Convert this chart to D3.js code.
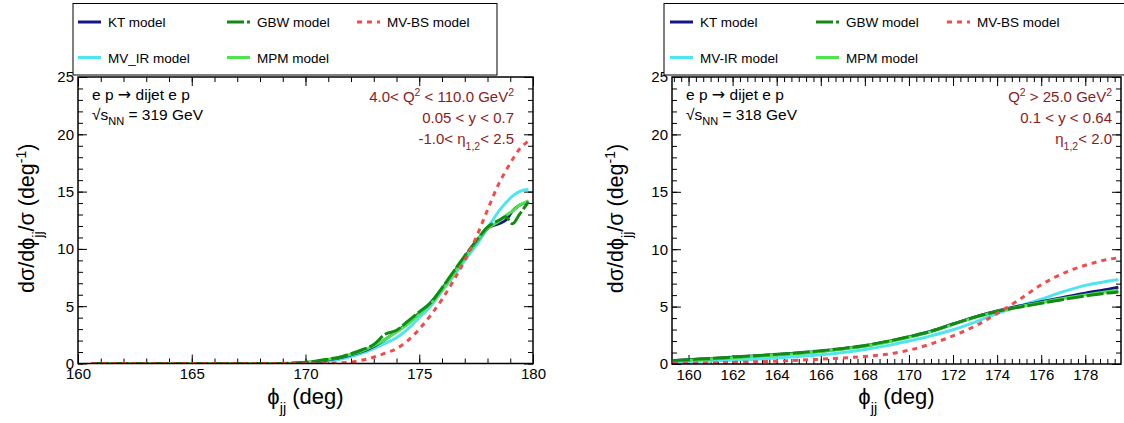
<!DOCTYPE html>
<html>
<head>
<meta charset="utf-8">
<script src="https://cdn.jsdelivr.net/npm/d3@7"></script>
<style>
  body { margin: 0; background: #fff; }
  svg { display: block; }
  text { font-family: "Liberation Sans", Arial, Helvetica, sans-serif; }
</style>
</head>
<body>
<svg id="chart" width="1124" height="423"></svg>
<script>
// ---- Left panel: 4 < Q^2 < 110 GeV^2, sqrt(s) = 319 GeV ----
const phiLeft = [160.6, 162, 164, 166, 168, 169, 169.5, 170, 170.5, 171, 171.5, 172, 172.5, 173, 173.5, 174, 174.5, 175, 175.5, 176, 176.5, 177, 177.5, 178, 178.5, 178.8, 179.1, 179.4, 179.8];
const ktLeft   = [0, 0, 0, 0, 0, 0.01, 0.03, 0.08, 0.18, 0.33, 0.5, 0.75, 1.05, 1.5, 2.1, 2.8, 3.5, 4.4, 5.3, 6.5, 7.9, 9.3, 10.6, 11.8, 12.2, 12.5, 13.3, 13.8, 14.1];
const gbwLeft  = [0, 0, 0, 0, 0, 0.01, 0.04, 0.1, 0.22, 0.38, 0.55, 0.85, 1.2, 1.65, 2.55, 2.9, 3.7, 4.5, 5.3, 6.6, 8.0, 9.4, 10.7, 11.9, 12.5, 12.8, 12.2, 13.0, 14.1];
const mvbsLeft = [0, 0, 0, 0, 0, 0, 0, 0, 0.01, 0.02, 0.05, 0.12, 0.3, 0.55, 0.9, 1.3, 2.0, 3.0, 4.2, 5.6, 7.2, 9.0, 11.0, 13.4, 15.7, 16.8, 17.8, 18.7, 19.4];
const mvirLeft = [0, 0, 0, 0, 0, 0.005, 0.02, 0.05, 0.12, 0.22, 0.37, 0.6, 0.9, 1.3, 1.75, 2.25, 3.0, 4.0, 5.0, 6.3, 7.6, 9.0, 10.3, 11.8, 13.3, 14.0, 14.6, 15.0, 15.2];
const mpmLeft  = [0, 0, 0, 0, 0, 0.01, 0.03, 0.08, 0.2, 0.36, 0.55, 0.8, 1.1, 1.55, 2.1, 2.75, 3.45, 4.3, 5.2, 6.4, 7.8, 9.2, 10.6, 11.8, 12.4, 12.9, 13.3, 13.8, 14.2];

// ---- Right panel: Q^2 > 25 GeV^2, sqrt(s) = 318 GeV ----
const phiRight  = [159.3, 160, 161, 162, 163, 164, 165, 166, 167, 168, 169, 170, 171, 172, 173, 174, 175, 176, 177, 178, 179, 179.5];
const ktRight   = [0.28, 0.36, 0.46, 0.58, 0.7, 0.82, 0.95, 1.12, 1.33, 1.58, 1.94, 2.36, 2.85, 3.48, 4.1, 4.62, 5.05, 5.42, 5.8, 6.17, 6.5, 6.68];
const gbwRight  = [0.3, 0.38, 0.48, 0.6, 0.72, 0.84, 0.98, 1.15, 1.36, 1.62, 1.97, 2.38, 2.86, 3.48, 4.08, 4.58, 4.95, 5.28, 5.62, 5.92, 6.18, 6.28];
const mvbsRight = [0.05, 0.07, 0.1, 0.14, 0.19, 0.25, 0.33, 0.42, 0.52, 0.66, 0.85, 1.2, 1.75, 2.45, 3.3, 4.4, 5.6, 6.9, 7.9, 8.6, 9.1, 9.25];
const mvirRight = [0.18, 0.21, 0.27, 0.34, 0.42, 0.52, 0.65, 0.8, 1.0, 1.27, 1.6, 2.0, 2.45, 2.98, 3.65, 4.4, 5.05, 5.65, 6.3, 6.85, 7.2, 7.35];
const mpmRight  = [0.26, 0.33, 0.43, 0.55, 0.67, 0.79, 0.92, 1.09, 1.3, 1.55, 1.9, 2.32, 2.82, 3.45, 4.06, 4.58, 4.98, 5.34, 5.7, 6.02, 6.3, 6.42];

// ---- Axis ticks ----
const yTicks = [0, 5, 10, 15, 20, 25];
const xTicksLeft = [160, 165, 170, 175, 180];
const xTicksRight = [160, 162, 164, 166, 168, 170, 172, 174, 176, 178];

// ---- Legend ----
const legendLabelsLeft  = ["KT model", "GBW model", "MV-BS model", "MV_IR model", "MPM model"];
const legendLabelsRight = ["KT model", "GBW model", "MV-BS model", "MV-IR model", "MPM model"];

// Line styles for each model (KT, GBW, MV-BS, MV-IR, MPM)
const styles = [
  { color: "#161682", dash: null },
  { color: "#138a13", dash: "17,3" },
  { color: "#f24b4b", dash: "5,5" },
  { color: "#4fe5ef", dash: null },
  { color: "#4de44d", dash: null }
];
// draw order: MV-IR, KT, MPM, GBW, MV-BS
const drawOrder = [3, 0, 4, 1, 2];

const svg = d3.select("#chart");
const darkRed = "#8c1c1c";

function drawPanel(p) {
  const x = d3.scaleLinear().domain(p.xDomain).range([p.left, p.right]);
  const y = d3.scaleLinear().domain([0, 25]).range([p.bottom, p.top]);
  const g = svg.append("g");

  const clipId = "clip" + p.id;
  svg.append("clipPath").attr("id", clipId)
    .append("rect").attr("x", p.left).attr("y", p.top)
    .attr("width", p.right - p.left).attr("height", p.bottom - p.top);

  // minor ticks
  const xMinor = p.xMinor, yMinor = d3.range(0, 25.001, 1);
  [[d3.axisBottom(x), p.bottom], [d3.axisTop(x), p.top]].forEach(([gen, ty]) => {
    g.append("g").attr("transform", `translate(0,${ty})`)
      .call(gen.tickValues(xMinor).tickSize(-5).tickFormat(""))
      .call(s => s.select(".domain").remove());
  });
  g.append("g").attr("transform", `translate(${p.left},0)`)
    .call(d3.axisLeft(y).tickValues(yMinor).tickSize(-5).tickFormat(""))
    .call(s => s.select(".domain").remove());
  g.append("g").attr("transform", `translate(${p.right},0)`)
    .call(d3.axisRight(y).tickValues(yMinor).tickSize(-5).tickFormat(""))
    .call(s => s.select(".domain").remove());

  // major ticks with labels
  g.append("g").attr("transform", `translate(0,${p.bottom})`)
    .call(d3.axisBottom(x).tickValues(p.xTicks).tickSize(-9).tickPadding(5).tickFormat(d3.format("d")))
    .call(s => s.select(".domain").remove());
  g.append("g").attr("transform", `translate(0,${p.top})`)
    .call(d3.axisTop(x).tickValues(p.xTicks).tickSize(-9).tickFormat(""))
    .call(s => s.select(".domain").remove());
  g.append("g").attr("transform", `translate(${p.left},0)`)
    .call(d3.axisLeft(y).tickValues(yTicks).tickSize(-9).tickPadding(4).tickFormat(d3.format("d")))
    .call(s => s.select(".domain").remove());
  g.append("g").attr("transform", `translate(${p.right},0)`)
    .call(d3.axisRight(y).tickValues(yTicks).tickSize(-9).tickFormat(""))
    .call(s => s.select(".domain").remove());

  g.selectAll(".tick line").attr("stroke", "#000").attr("stroke-width", 1);
  g.selectAll(".tick text").attr("font-size", 15).attr("fill", "#000")
    .style("font-family", '"Liberation Sans", Arial, sans-serif');

  // curves
  const line = d3.line().x(d => x(d[0])).y(d => y(d[1])).curve(d3.curveMonotoneX);
  const curves = g.append("g").attr("clip-path", `url(#${clipId})`);
  drawOrder.forEach(i => {
    const pts = p.phi.map((v, k) => [v, p.series[i][k]]);
    curves.append("path").datum(pts)
      .attr("d", line)
      .attr("fill", "none")
      .attr("stroke", styles[i].color)
      .attr("stroke-width", 3)
      .attr("stroke-dasharray", styles[i].dash);
  });

  // frame
  g.append("rect").attr("x", p.left).attr("y", p.top)
    .attr("width", p.right - p.left).attr("height", p.bottom - p.top)
    .attr("fill", "none").attr("stroke", "#000").attr("stroke-width", 1.5);

  // legend box
  const lg = g.append("g");
  lg.append("rect").attr("x", p.legend.x0).attr("y", 3.5)
    .attr("width", p.legend.x1 - p.legend.x0).attr("height", 71.5)
    .attr("fill", "#fff").attr("stroke", "#000").attr("stroke-width", 1);
  const slots = [[0, 0], [1, 0], [2, 0], [0, 1], [1, 1]];
  slots.forEach((s, i) => {
    const lx = p.legend.cols[s[0]];
    const ly = s[1] === 0 ? 22 : 57.5;
    lg.append("line").attr("x1", lx).attr("x2", lx + 23).attr("y1", ly).attr("y2", ly)
      .attr("stroke", styles[i].color).attr("stroke-width", 3)
      .attr("stroke-dasharray", styles[i].dash);
    lg.append("text").attr("x", lx + 30).attr("y", ly + 5)
      .attr("font-size", 13.5).text(p.legendLabels[i]);
  });

  // process label
  const t1 = g.append("text").attr("x", p.left + 14).attr("y", 99.5).attr("font-size", 15.5);
  t1.append("tspan").text("e p ");
  t1.append("tspan").style("font-family", '"DejaVu Sans", sans-serif').attr("font-size", 16).text("\u2192");
  t1.append("tspan").text(" dijet e p");
  const t2 = g.append("text").attr("x", p.left + 14).attr("y", 120).attr("font-size", 15.5);
  t2.append("tspan").text("\u221As");
  t2.append("tspan").attr("dy", 5).attr("font-size", 11).text("NN");
  t2.append("tspan").attr("dy", -5).text(" = " + p.energy + " GeV");

  // kinematic cuts
  p.cuts.forEach((parts, k) => {
    const t = g.append("text").attr("x", p.cutX).attr("y", [102, 123, 144][k])
      .attr("text-anchor", "end").attr("font-size", 15).attr("fill", darkRed);
    let off = 0;
    parts.forEach(pt => {
      const sh = pt.sup ? -6 : pt.sub ? 6 : 0;
      t.append("tspan").attr("dy", sh - off)
        .attr("font-size", pt.sup || pt.sub ? 10.5 : 15).text(pt.t);
      off = sh;
    });
  });

  // axis titles
  const xt = g.append("text").attr("x", (p.left + p.right) / 2).attr("y", 404)
    .attr("text-anchor", "middle").attr("font-size", 22);
  xt.append("tspan").text("\u03D5");
  xt.append("tspan").attr("dy", 9).attr("font-size", 14.5).text("jj");
  xt.append("tspan").attr("dy", -9).text(" (deg)");

  const yt = g.append("text")
    .attr("transform", `translate(${p.yTitleX},${(p.top + p.bottom) / 2 - 2}) rotate(-90)`)
    .attr("text-anchor", "middle").attr("font-size", 21.5);
  yt.append("tspan").text("d\u03C3/d\u03D5");
  yt.append("tspan").attr("dy", 9).attr("font-size", 14).text("jj");
  yt.append("tspan").attr("dy", -9).text("/\u03C3  (deg");
  yt.append("tspan").attr("dy", -8).attr("font-size", 14).text("-1");
  yt.append("tspan").attr("dy", 8).text(")");
}

drawPanel({
  id: "L", left: 78, right: 533, top: 77, bottom: 363.5,
  xDomain: [160, 180], xTicks: xTicksLeft, xMinor: d3.range(160, 180.001, 1),
  phi: phiLeft, series: [ktLeft, gbwLeft, mvbsLeft, mvirLeft, mpmLeft],
  legend: { x0: 73, x1: 497, cols: [78, 227, 357] }, legendLabels: legendLabelsLeft,
  energy: 319, cutX: 514, yTitleX: 34,
  cuts: [
    [{ t: "4.0< Q" }, { t: "2", sup: true }, { t: " < 110.0 GeV" }, { t: "2", sup: true }],
    [{ t: "0.05 < y < 0.7" }],
    [{ t: "-1.0< \u03B7" }, { t: "1,2", sub: true }, { t: "< 2.5" }]
  ]
});

drawPanel({
  id: "R", left: 672, right: 1121, top: 77, bottom: 364,
  xDomain: [159.25, 179.62], xTicks: xTicksRight, xMinor: d3.range(160 - 2 / 3, 179.62, 1 / 3),
  phi: phiRight, series: [ktRight, gbwRight, mvbsRight, mvirRight, mpmRight],
  legend: { x0: 664, x1: 1130, cols: [670, 816, 947] }, legendLabels: legendLabelsRight,
  energy: 318, cutX: 1112, yTitleX: 623,
  cuts: [
    [{ t: "Q" }, { t: "2", sup: true }, { t: " > 25.0 GeV" }, { t: "2", sup: true }],
    [{ t: "0.1 < y < 0.64" }],
    [{ t: "\u03B7" }, { t: "1,2", sub: true }, { t: "< 2.0" }]
  ]
});
</script>
</body>
</html>
